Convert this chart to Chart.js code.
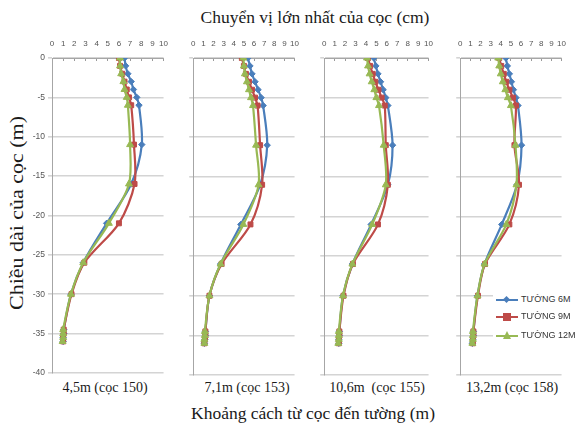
<!DOCTYPE html>
<html>
<head>
<meta charset="utf-8">
<script src="https://cdn.jsdelivr.net/npm/chart.js@4.4.1/dist/chart.umd.min.js"></script>
<style>
  body { margin:0; width:584px; height:429px; background:#fff; position:relative; overflow:hidden; }
  canvas { position:absolute; }
  .txt { position:absolute; transform:translate(-50%,-50%); white-space:pre; font-family:"Liberation Serif", serif; color:#1a1a1a; }
  #legend { position:absolute; left:493px; top:291px; width:80px; height:52px; background:#fff; font-family:"Liberation Sans", sans-serif; font-size:9px; color:#333; }
  .row { position:absolute; left:3px; height:10px; }
  .row .ln { position:absolute; left:0; top:4px; width:22px; height:2px; }
  .row .mk { position:absolute; }
  .row span { position:absolute; left:25px; top:-1px; white-space:pre; }
</style>
</head>
<body>

<div class="txt" style="left:315px; top:17px; font-size:17.5px;">Chuyển vị lớn nhất của cọc (cm)</div>
<div class="txt" style="left:17px; top:213px; font-size:18px; transform:translate(-50%,-50%) rotate(-90deg) scaleX(1.22);">Chiều dài của cọc (m)</div>
<div class="txt" style="left:313px; top:413px; font-size:17.5px;">Khoảng cách từ cọc đến tường (m)</div>
<div id="labels"></div>

<canvas id="c0"></canvas>
<canvas id="c1"></canvas>
<canvas id="c2"></canvas>
<canvas id="c3"></canvas>

<div id="legend"></div>

<script>
// depth of each measuring point along the pile (m)
const depths = [0, -1, -2, -3, -4, -5, -6, -11, -16, -21, -26, -30, -34.5, -35, -35.5, -36];

const seriesNames = ["TƯỜNG 6M", "TƯỜNG 9M", "TƯỜNG 12M"];
const panelLabels = ["4,5m (cọc 150)", "7,1m (cọc 153)", "10,6m  (cọc 155)", "13,2m (cọc 158)"];

// displacement (cm), one row per panel
const wall6M = [
  [6.5, 6.6, 6.8, 7.1, 7.3, 7.6, 7.8, 8.05, 7.1, 4.9, 2.8, 1.7, 1.05, 1.05, 1.0, 1.0],
  [5.4, 5.6, 5.8, 6.1, 6.4, 6.7, 6.9, 7.3, 6.6, 4.7, 2.7, 1.6, 1.2, 1.2, 1.15, 1.1],
  [4.75, 4.95, 5.15, 5.4, 5.65, 5.9, 6.1, 6.55, 6.1, 4.5, 2.7, 1.8, 1.45, 1.45, 1.4, 1.4],
  [4.5, 4.65, 4.85, 5.05, 5.25, 5.5, 5.7, 6.05, 5.6, 4.1, 2.4, 1.7, 1.3, 1.3, 1.25, 1.2]
];
const wall9M = [
  [6.0, 6.1, 6.3, 6.5, 6.7, 6.9, 7.1, 7.35, 7.4, 6.0, 2.9, 1.75, 1.05, 1.05, 1.0, 1.0],
  [4.8, 5.0, 5.2, 5.5, 5.8, 6.1, 6.35, 6.6, 6.8, 5.65, 2.8, 1.6, 1.2, 1.2, 1.15, 1.1],
  [4.2, 4.4, 4.65, 4.9, 5.2, 5.5, 5.8, 5.9, 6.1, 5.15, 2.75, 1.85, 1.45, 1.45, 1.4, 1.4],
  [3.85, 4.05, 4.3, 4.55, 4.85, 5.2, 5.5, 5.35, 5.8, 4.85, 2.45, 1.75, 1.3, 1.3, 1.25, 1.25]
];
const wall12M = [
  [6.1, 6.1, 6.2, 6.4, 6.5, 6.7, 6.8, 7.0, 6.9, 5.1, 2.8, 1.7, 1.0, 1.0, 1.0, 0.95],
  [4.95, 5.0, 5.1, 5.3, 5.5, 5.7, 5.9, 6.2, 6.45, 4.95, 2.7, 1.6, 1.15, 1.15, 1.1, 1.1],
  [4.1, 4.2, 4.35, 4.55, 4.8, 5.0, 5.25, 5.7, 5.9, 4.6, 2.7, 1.8, 1.4, 1.4, 1.4, 1.35],
  [3.75, 3.85, 4.0, 4.2, 4.45, 4.7, 5.0, 5.45, 5.55, 4.55, 2.4, 1.7, 1.25, 1.25, 1.25, 1.2]
];

const xMin = 0, xMax = 10, xStep = 1;
const yMin = -40, yMax = 0, yStep = 5;

const colors = ["#4A7EBB", "#BE4B48", "#98B954"];
const markers = ["rectRot", "rect", "triangle"];
const markerSize = [3.2, 3.5, 4];

// panel plot-area edges in the page
const areaLeft = [52, 185, 316, 452];
const areaRight = [172, 303, 437, 570];
const areaTop = 58, areaBottom = 375;
const labelX = [105, 247, 377, 512];

function pts(vals) {
  return vals.map((v, i) => ({ x: v, y: depths[i] }));
}

for (let p = 0; p < 4; p++) {
  const yw = p === 0 ? 32 : 6;
  const padR = 8, padB = 6, xh = 28;
  const cv = document.getElementById("c" + p);
  const w = areaRight[p] - areaLeft[p] + yw + padR;
  const h = areaBottom - areaTop + xh + padB;
  cv.width = w; cv.height = h;
  cv.style.left = (areaLeft[p] - yw) + "px";
  cv.style.top = (areaTop - xh) + "px";

  const all = [wall6M[p], wall9M[p], wall12M[p]];

  new Chart(cv, {
    type: "scatter",
    data: {
      datasets: all.map((vals, s) => ({
        label: seriesNames[s],
        data: pts(vals),
        order: 2 - s,   // later series painted on top, like the original
        showLine: true,
        borderColor: colors[s],
        backgroundColor: colors[s],
        borderWidth: 2.2,
        tension: 0.3,
        pointStyle: markers[s],
        pointRadius: markerSize[s],
        pointBorderWidth: 1
      }))
    },
    options: {
      responsive: false,
      animation: false,
      layout: { padding: { left: 0, right: padR, top: 0, bottom: padB } },
      plugins: { legend: { display: false }, tooltip: { enabled: false } },
      scales: {
        x: {
          type: "linear",
          position: "top",
          min: xMin, max: xMax,
          afterFit: s => { s.height = xh; },
          ticks: { stepSize: xStep, autoSkip: false, maxRotation: 0, color: "#555", padding: 12, font: { family: "Liberation Sans", size: 8 } },
          grid: { display: true, drawOnChartArea: false, drawTicks: true, tickLength: -3, color: "#9a9a9a" },
          border: { display: true, color: "#a6a6a6", width: 1 }
        },
        y: {
          type: "linear",
          min: yMin, max: yMax,
          afterFit: s => { s.width = yw; },
          ticks: { display: p === 0, stepSize: yStep, color: "#555", padding: 3, font: { family: "Liberation Sans", size: 8.5 } },
          grid: { color: "#d4d4d4", lineWidth: 1.6, tickLength: 4 },
          border: { display: true, color: "#a6a6a6", width: 1 }
        }
      }
    }
  });

  const lb = document.createElement("div");
  lb.className = "txt";
  lb.style.left = labelX[p] + "px";
  lb.style.top = "388px";
  lb.style.fontSize = "14px";
  lb.textContent = panelLabels[p];
  document.getElementById("labels").appendChild(lb);
}

// legend
const legend = document.getElementById("legend");
const rowTops = [4, 21, 40];
seriesNames.forEach((name, s) => {
  const row = document.createElement("div");
  row.className = "row";
  row.style.top = rowTops[s] + "px";
  const ln = document.createElement("div");
  ln.className = "ln";
  ln.style.background = colors[s];
  const mk = document.createElement("div");
  mk.className = "mk";
  if (s === 0) {
    mk.style.cssText = "left:8px;top:2px;width:5px;height:5px;transform:rotate(45deg);background:" + colors[s];
  } else if (s === 1) {
    mk.style.cssText = "left:7px;top:1px;width:8px;height:8px;background:" + colors[s];
  } else {
    mk.style.cssText = "left:7px;top:0px;width:0;height:0;border-left:4px solid transparent;border-right:4px solid transparent;border-bottom:8px solid " + colors[s];
  }
  const sp = document.createElement("span");
  sp.textContent = name;
  row.appendChild(ln);
  row.appendChild(mk);
  row.appendChild(sp);
  legend.appendChild(row);
});
</script>
</body>
</html>
